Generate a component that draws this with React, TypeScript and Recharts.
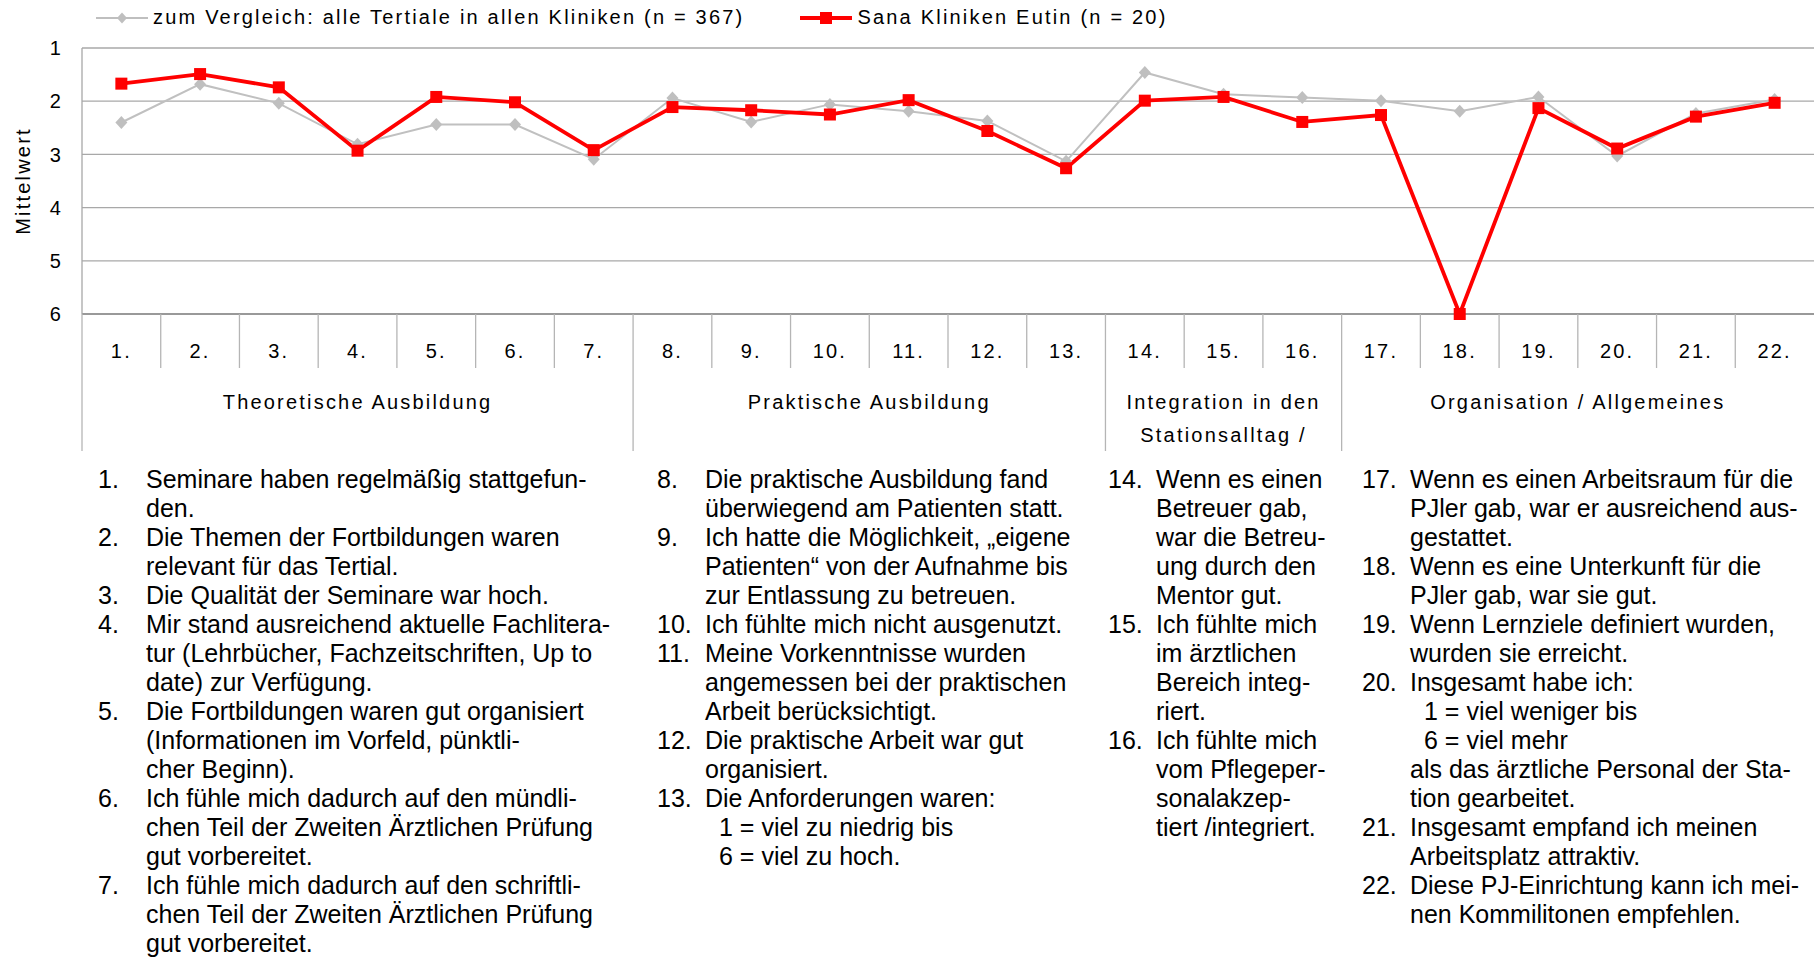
import React from 'react';
import { ComposedChart, Line, XAxis, YAxis, CartesianGrid, Legend } from 'recharts';

// ---------------------------------------------------------------------------
// Data
// ---------------------------------------------------------------------------

const categories = [
  '1.', '2.', '3.', '4.', '5.', '6.', '7.', '8.', '9.', '10.', '11.',
  '12.', '13.', '14.', '15.', '16.', '17.', '18.', '19.', '20.', '21.', '22.',
];

// Mittelwerte aller Kliniken (grau)
const allClinics = [
  2.40, 1.68, 2.04, 2.81, 2.44, 2.44, 3.09, 1.94, 2.39, 2.06, 2.19,
  2.37, 3.13, 1.46, 1.87, 1.93, 1.99, 2.19, 1.92, 3.03, 2.23, 1.97,
];

// Mittelwerte Sana Kliniken Eutin (rot)
const eutin = [
  1.67, 1.49, 1.74, 2.93, 1.92, 2.02, 2.92, 2.11, 2.17, 2.25, 1.98,
  2.56, 3.26, 1.99, 1.92, 2.39, 2.26, 6.0, 2.13, 2.89, 2.29, 2.03,
];

const seriesNames = [
  'zum Vergleich: alle Tertiale in allen Kliniken (n = 367)',
  'Sana Kliniken Eutin (n = 20)',
];

const yTicks = [1, 2, 3, 4, 5, 6];

const groupLabels = [
  ['Theoretische Ausbildung'],
  ['Praktische Ausbildung'],
  ['Integration in den', 'Stationsalltag /'],
  ['Organisation / Allgemeines'],
];
// category index where each group starts / ends
const groupBounds = [0, 7, 13, 16, 22];

// ---------------------------------------------------------------------------
// Footnotes (Fragetexte)
// ---------------------------------------------------------------------------

type Note = { n: string; lines: string[]; sub?: string[]; tail?: string[] };

const notesCol1: Note[] = [
  { n: '1.', lines: ['Seminare haben regelmäßig stattgefun-', 'den.'] },
  { n: '2.', lines: ['Die Themen der Fortbildungen waren', 'relevant für das Tertial.'] },
  { n: '3.', lines: ['Die Qualität der Seminare war hoch.'] },
  { n: '4.', lines: ['Mir stand ausreichend aktuelle Fachlitera-', 'tur (Lehrbücher, Fachzeitschriften, Up to', 'date) zur Verfügung.'] },
  { n: '5.', lines: ['Die Fortbildungen waren gut organisiert', '(Informationen im Vorfeld, pünktli-', 'cher Beginn).'] },
  { n: '6.', lines: ['Ich fühle mich dadurch auf den mündli-', 'chen Teil der Zweiten Ärztlichen Prüfung', 'gut vorbereitet.'] },
  { n: '7.', lines: ['Ich fühle mich dadurch auf den schriftli-', 'chen Teil der Zweiten Ärztlichen Prüfung', 'gut vorbereitet.'] },
];

const notesCol2: Note[] = [
  { n: '8.', lines: ['Die praktische Ausbildung fand', 'überwiegend am Patienten statt.'] },
  { n: '9.', lines: ['Ich hatte die Möglichkeit, „eigene', 'Patienten“ von der Aufnahme bis', 'zur Entlassung zu betreuen.'] },
  { n: '10.', lines: ['Ich fühlte mich nicht ausgenutzt.'] },
  { n: '11.', lines: ['Meine Vorkenntnisse wurden', 'angemessen bei der praktischen', 'Arbeit berücksichtigt.'] },
  { n: '12.', lines: ['Die praktische Arbeit war gut', 'organisiert.'] },
  { n: '13.', lines: ['Die Anforderungen waren:'], sub: ['1 = viel zu niedrig bis', '6 = viel zu hoch.'] },
];

const notesCol3: Note[] = [
  { n: '14.', lines: ['Wenn es einen', 'Betreuer gab,', 'war die Betreu-', 'ung durch den', 'Mentor gut.'] },
  { n: '15.', lines: ['Ich fühlte mich', 'im ärztlichen', 'Bereich integ-', 'riert.'] },
  { n: '16.', lines: ['Ich fühlte mich', 'vom Pflegeper-', 'sonalakzep-', 'tiert /integriert.'] },
];

const notesCol4: Note[] = [
  { n: '17.', lines: ['Wenn es einen Arbeitsraum für die', 'PJler gab, war er ausreichend aus-', 'gestattet.'] },
  { n: '18.', lines: ['Wenn es eine Unterkunft für die', 'PJler gab, war sie gut.'] },
  { n: '19.', lines: ['Wenn Lernziele definiert wurden,', 'wurden sie erreicht.'] },
  { n: '20.', lines: ['Insgesamt habe ich:'], sub: ['1 = viel weniger bis', '6 = viel mehr'], tail: ['als das ärztliche Personal der Sta-', 'tion gearbeitet.'] },
  { n: '21.', lines: ['Insgesamt empfand ich meinen', 'Arbeitsplatz attraktiv.'] },
  { n: '22.', lines: ['Diese PJ-Einrichtung kann ich mei-', 'nen Kommilitonen empfehlen.'] },
];

// ---------------------------------------------------------------------------
// Layout / style constants
// ---------------------------------------------------------------------------

const FONT = '"Liberation Sans", Arial, Helvetica, sans-serif';
const W = 1814;
const Y_AXIS_W = 82;
const CAT_H = 54;   // row with "1." … "22."
const GRP_H = 83;   // row with the group names
const TXT = { fontFamily: FONT, fontSize: 20, letterSpacing: 2.2, fill: '#000' };

const chartData = categories.map((cat, i) => ({ cat, all: allClinics[i], eutin: eutin[i] }));

// ---------------------------------------------------------------------------
// Custom shapes
// ---------------------------------------------------------------------------

// Category tick: label, left separator and (at group starts) the group name
function CatTick(props: any) {
  const { x, y, payload, index, width, visibleTicksCount } = props;
  const band = (width || W - Y_AXIS_W) / (visibleTicksCount || categories.length);
  const left = x - band / 2;
  const gi = groupBounds.indexOf(index);
  const edge = gi >= 0;
  return (
    <g>
      <line x1={left} x2={left} y1={y} y2={y + (edge ? CAT_H + GRP_H : CAT_H)} stroke="#b5b5b5" strokeWidth={1.3} />
      <text x={x} y={y + 44} textAnchor="middle" {...TXT}>
        {payload.value}
      </text>
      {edge && gi < groupLabels.length &&
        groupLabels[gi].map((line, k) => (
          <text
            key={k}
            x={left + ((groupBounds[gi + 1] - groupBounds[gi]) * band) / 2}
            y={y + CAT_H + 41 + k * 33}
            textAnchor="middle"
            {...TXT}
          >
            {line}
          </text>
        ))}
    </g>
  );
}

function diamondDot(p: any) {
  const { cx, cy, index } = p;
  if (cx == null || cy == null) return <g key={`d${index}`} />;
  return (
    <path
      key={`d${index}`}
      d={`M${cx},${cy - 6.5} L${cx + 6},${cy} L${cx},${cy + 6.5} L${cx - 6},${cy} Z`}
      fill="#bfbfbf"
    />
  );
}

function squareDot(p: any) {
  const { cx, cy, index } = p;
  if (cx == null || cy == null) return <g key={`s${index}`} />;
  return <rect key={`s${index}`} x={cx - 6} y={cy - 6} width={12} height={12} fill="#ff0000" />;
}

function LegendContent({ payload }: any) {
  const items = [...(payload || [])].sort(
    (a: any, b: any) => seriesNames.indexOf(a.value) - seriesNames.indexOf(b.value),
  );
  return (
    <div style={{ display: 'flex', alignItems: 'center', fontFamily: FONT, fontSize: 20, letterSpacing: 2.2, color: '#000', whiteSpace: 'nowrap' }}>
      {items.map((e: any, i: number) => (
        <div key={i} style={{ display: 'flex', alignItems: 'center', marginLeft: i ? 56 : 0 }}>
          <svg width={52} height={16}>
            {e.dataKey === 'all' ? (
              <>
                <line x1={0} x2={52} y1={8} y2={8} stroke="#bfbfbf" strokeWidth={2} />
                <path d="M26,2.5 L31,8 L26,13.5 L21,8 Z" fill="#bfbfbf" />
              </>
            ) : (
              <>
                <line x1={0} x2={52} y1={8} y2={8} stroke="#ff0000" strokeWidth={4} />
                <rect x={20} y={2} width={12} height={12} fill="#ff0000" />
              </>
            )}
          </svg>
          <span style={{ marginLeft: 5 }}>{e.value}</span>
        </div>
      ))}
    </div>
  );
}

function NoteColumn({ notes, left }: { notes: Note[]; left: number }) {
  const line = (t: string, k: string, indent: number, num?: string) => (
    <div key={k} style={{ position: 'relative', height: 29, paddingLeft: indent, whiteSpace: 'nowrap' }}>
      {num && <span style={{ position: 'absolute', left: 0 }}>{num}</span>}
      {t}
    </div>
  );
  return (
    <div style={{ position: 'absolute', left, top: 465, fontFamily: FONT, fontSize: 25, lineHeight: '29px', color: '#000' }}>
      {notes.map((note, i) => (
        <React.Fragment key={i}>
          {note.lines.map((t, j) => line(t, `${i}l${j}`, 48, j === 0 ? note.n : undefined))}
          {(note.sub || []).map((t, j) => line(t, `${i}s${j}`, 62))}
          {(note.tail || []).map((t, j) => line(t, `${i}t${j}`, 48))}
        </React.Fragment>
      ))}
    </div>
  );
}

// ---------------------------------------------------------------------------
// Main
// ---------------------------------------------------------------------------

export default function App() {
  return (
    <div style={{ position: 'absolute', left: 0, top: 0, width: W, height: 957, overflow: 'hidden', background: '#fff' }}>
      <ComposedChart width={W} height={460} data={chartData} margin={{ top: 48, right: 0, left: 0, bottom: 9 }}>
        <CartesianGrid vertical={false} stroke="#a8a8a8" strokeWidth={1.3} />
        <XAxis
          dataKey="cat"
          scale="band"
          interval={0}
          height={CAT_H + GRP_H}
          tickLine={false}
          tickSize={0}
          tickMargin={0}
          axisLine={{ stroke: '#8c8c8c', strokeWidth: 1.5 }}
          tick={<CatTick />}
        />
        <YAxis
          type="number"
          domain={[1, 6]}
          reversed
          ticks={yTicks}
          interval={0}
          width={Y_AXIS_W}
          tickLine={false}
          tickSize={0}
          tickMargin={19}
          axisLine={{ stroke: '#a8a8a8', strokeWidth: 1.3 }}
          tick={TXT}
          label={{
            value: 'Mittelwert',
            angle: -90,
            position: 'insideLeft',
            offset: 23,
            style: { textAnchor: 'middle', fontFamily: FONT, fontSize: 20, letterSpacing: 2.2, fill: '#000' },
          }}
        />
        <Legend
          layout="horizontal"
          verticalAlign="middle"
          align="center"
          content={<LegendContent />}
          wrapperStyle={{ top: 6, left: 96, width: 'auto' }}
        />
        <Line
          dataKey="all"
          name={seriesNames[0]}
          stroke="#c0c0c0"
          strokeWidth={2}
          dot={diamondDot}
          activeDot={false}
          isAnimationActive={false}
        />
        <Line
          dataKey="eutin"
          name={seriesNames[1]}
          stroke="#ff0000"
          strokeWidth={3.8}
          dot={squareDot}
          activeDot={false}
          isAnimationActive={false}
        />
      </ComposedChart>
      <NoteColumn notes={notesCol1} left={98} />
      <NoteColumn notes={notesCol2} left={657} />
      <NoteColumn notes={notesCol3} left={1108} />
      <NoteColumn notes={notesCol4} left={1362} />
    </div>
  );
}
